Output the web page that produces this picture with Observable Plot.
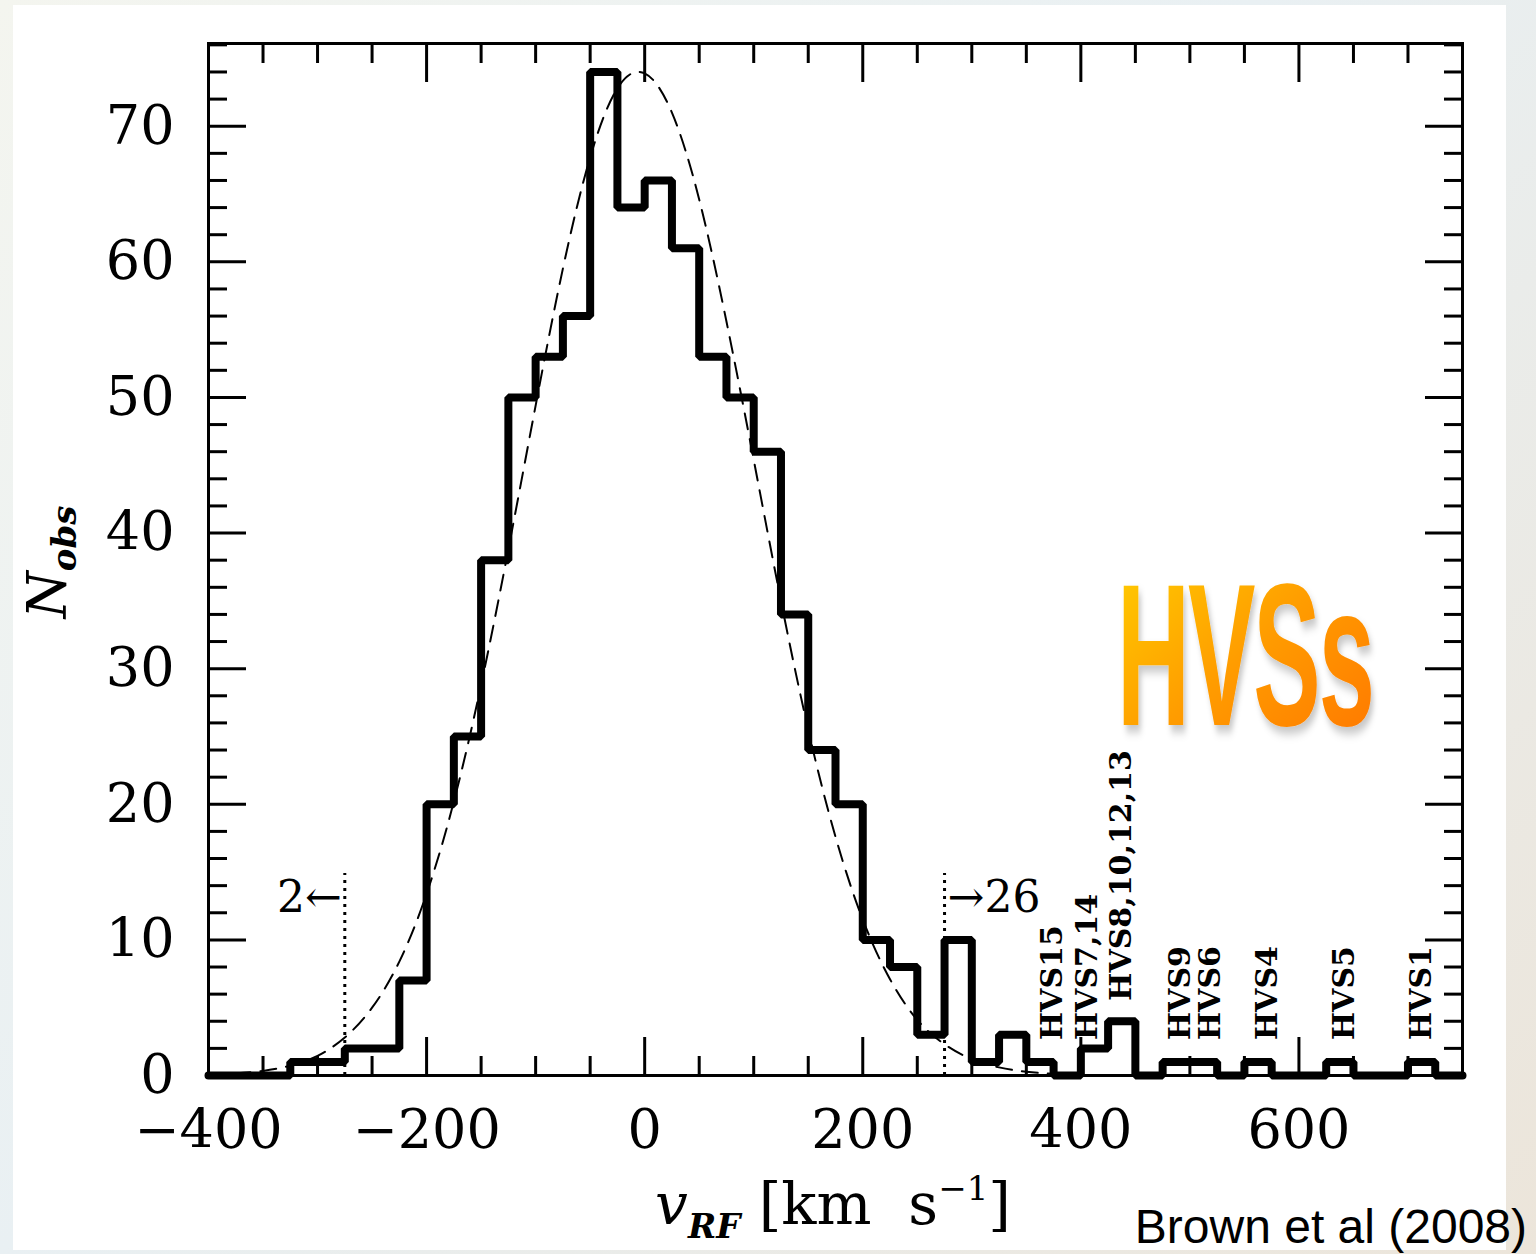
<!DOCTYPE html>
<html><head><meta charset="utf-8">
<script src="https://cdn.jsdelivr.net/npm/d3@7"></script>
<script src="https://cdn.jsdelivr.net/npm/@observablehq/plot@0.6"></script>
<style>
html,body{margin:0;padding:0;}
body{width:1536px;height:1254px;overflow:hidden;background:linear-gradient(135deg,#f4f5ef 0%,#e9f0f3 45%,#ece5da 100%);}
#wrap{position:relative;width:1536px;height:1254px;}
#panel{position:absolute;left:13px;top:5px;width:1493px;height:1245px;background:#fff;}
#chart{position:absolute;left:0;top:0;}
</style></head><body>
<div id="wrap"><div id="panel"></div><div id="chart"></div></div>
<script>
// Histogram: bin edges (km/s) and counts per 25 km/s bin
const binEdges = [-400,-375,-350,-325,-300,-275,-250,-225,-200,-175,-150,-125,-100,-75,-50,-25,0,25,50,75,100,125,150,175,200,225,250,275,300,325,350,375,400,425,450,475,500,525,550,575,600,625,650,675,700,725,750];
const counts   = [0,0,0,1,1,2,2,7,20,25,38,50,53,56,74,64,66,61,53,50,46,34,24,20,10,8,3,10,1,3,1,0,2,4,0,1,1,0,1,0,0,1,0,0,1,0];

// Dashed model curve
const fitV = [-400,-375,-350,-325,-300,-275,-250,-225,-200,-175,-150,-125,-100,-75,-50,-25,0,25,50,75,100,125,150,175,200,225,250,275,300,325,350,375,400];
const fitN = [0.06,0.15,0.34,0.72,1.45,2.8,5.0,8.4,13.4,20.2,28.8,38.8,49.4,59.5,67.7,72.8,73.9,71.0,64.6,55.6,45.4,35.0,25.5,17.6,11.5,7.1,4.1,2.3,1.2,0.6,0.28,0.12,0.05];

// Dotted cut lines and their labels
const cutV = [-275, 275];
const cutTop = [14.9, 14.9];
const cutLabel = ["2\u2190", "\u219226"];
const cutLabelY = [13.1, 13.1];

// HVS annotations (base height of each rotated label)
const hvsNames = ["HVS15","HVS7,14","HVS8,10,12,13","HVS9","HVS6","HVS4","HVS5","HVS1"];
const hvsV = [374, 406, 437.5, 491, 519, 571, 642, 712];
const hvsBase = [2.6, 2.6, 5.5, 2.6, 2.6, 2.6, 2.6, 2.6];

// Ticks
const xMajor = [-400,-200,0,200,400,600];
const xMinor = [-350,-300,-250,-150,-100,-50,50,100,150,250,300,350,450,500,550,650,700];
const yMajor = [0,10,20,30,40,50,60,70];
const yMinor = [2,4,6,8,12,14,16,18,22,24,26,28,32,34,36,38,42,44,46,48,52,54,56,58,62,64,66,68,72,74,76];

const hist = binEdges.map((e, i) => ({v: e, n: counts[Math.min(i, counts.length - 1)]}));
const fit = fitV.map((v, i) => ({v, n: fitN[i]}));
const cuts = cutV.map((v, i) => ({v, top: cutTop[i], label: cutLabel[i], ly: cutLabelY[i]}));
const hvs = hvsNames.map((name, i) => ({name, v: hvsV[i], y: hvsBase[i]}));

const serif = "DejaVu Serif";
const tickOpts = {strokeWidth: 3, tickFormat: () => "", label: null};

const plot = Plot.plot({
  width: 1536, height: 1254,
  marginLeft: 208, marginRight: 74, marginTop: 43, marginBottom: 179,
  style: {background: "transparent", fontFamily: serif, color: "#000", overflow: "visible"},
  x: {domain: [-400, 750]},
  y: {domain: [0, 76.1]},
  marks: [
    Plot.line(fit, {x: "v", y: "n", curve: "natural", stroke: "#000", strokeWidth: 2, strokeDasharray: "16,10"}),
    Plot.ruleX(cuts, {x: "v", y1: 0, y2: "top", stroke: "#000", strokeWidth: 3, strokeDasharray: "3,5"}),
    Plot.text(cuts.filter(d => d.v < 0), {x: "v", y: "ly", text: "label", textAnchor: "end", dx: -3, fontSize: 44, fontFamily: serif}),
    Plot.text(cuts.filter(d => d.v > 0), {x: "v", y: "ly", text: "label", textAnchor: "start", dx: 3, fontSize: 44, fontFamily: serif}),
    Plot.line(hist, {x: "v", y: "n", curve: "step-after", stroke: "#000", strokeWidth: 8, strokeLinejoin: "miter"}),
    Plot.text(hvs, {x: "v", y: "y", text: "name", rotate: -90, textAnchor: "start", fontSize: 30, fontWeight: 600, fontFamily: serif}),
    Plot.frame({stroke: "#000", strokeWidth: 3}),
    Plot.axisX({anchor: "bottom", ticks: xMajor, tickSize: -38, ...tickOpts}),
    Plot.axisX({anchor: "bottom", ticks: xMinor, tickSize: -19, ...tickOpts}),
    Plot.axisX({anchor: "top", ticks: xMajor, tickSize: -38, ...tickOpts}),
    Plot.axisX({anchor: "top", ticks: xMinor, tickSize: -19, ...tickOpts}),
    Plot.axisY({anchor: "left", ticks: yMajor, tickSize: -38, ...tickOpts}),
    Plot.axisY({anchor: "left", ticks: yMinor, tickSize: -19, ...tickOpts}),
    Plot.axisY({anchor: "right", ticks: yMajor, tickSize: -38, ...tickOpts}),
    Plot.axisY({anchor: "right", ticks: yMinor, tickSize: -19, ...tickOpts}),
    Plot.axisX({anchor: "bottom", ticks: xMajor, tickSize: 0, tickPadding: 34, fontSize: 54, fontFamily: serif, label: null}),
    Plot.axisY({anchor: "left", ticks: yMajor, tickSize: 0, tickPadding: 34, fontSize: 54, fontFamily: serif, label: null})
  ]
});

const svg = d3.select(plot);
const defs = svg.append("defs");
const grad = defs.append("linearGradient").attr("id", "hvsGrad")
  .attr("x1", "0%").attr("y1", "0%").attr("x2", "100%").attr("y2", "100%");
grad.append("stop").attr("offset", "0%").attr("stop-color", "#ffd000");
grad.append("stop").attr("offset", "50%").attr("stop-color", "#ff9c00");
grad.append("stop").attr("offset", "100%").attr("stop-color", "#ff7400");
const filt = defs.append("filter").attr("id", "hvsShadow").attr("x", "-10%").attr("y", "-10%").attr("width", "130%").attr("height", "130%");
filt.append("feDropShadow").attr("dx", 5).attr("dy", 7).attr("stdDeviation", 5)
  .attr("flood-color", "#000").attr("flood-opacity", 0.22);

// Y axis title: N_obs
const yl = svg.append("text")
  .attr("transform", "translate(66,562) rotate(-90)")
  .attr("text-anchor", "middle")
  .attr("font-family", serif).attr("fill", "#000");
yl.append("tspan").attr("font-size", 54).attr("font-style", "italic").text("N");
yl.append("tspan").attr("font-size", 34).attr("font-style", "italic").attr("font-weight", "bold").attr("dy", 10).text("obs");

// X axis title: v_RF [km s^-1]
const xl = svg.append("text")
  .attr("x", 833).attr("y", 1224)
  .attr("text-anchor", "middle")
  .attr("font-family", serif).attr("fill", "#000");
xl.append("tspan").attr("font-size", 58).attr("font-style", "italic").text("v");
xl.append("tspan").attr("font-size", 34).attr("font-style", "italic").attr("font-weight", "bold").attr("dy", 14).text("RF");
xl.append("tspan").attr("font-size", 58).attr("dy", -14).text("\u00a0[km\u00a0\u00a0s");
xl.append("tspan").attr("font-size", 34).attr("dy", -24).text("\u22121");
xl.append("tspan").attr("font-size", 58).attr("dy", 24).text("]");

// Big HVSs title (condensed with a horizontal scale)
const hv = svg.append("g")
  .attr("filter", "url(#hvsShadow)")
  .attr("transform", "translate(1117,725) scale(0.5,1)");
hv.append("text")
  .attr("x", 0).attr("y", 0)
  .attr("text-anchor", "start")
  .attr("font-family", "Liberation Sans, Arial, sans-serif").attr("font-weight", "bold")
  .attr("font-size", 202).attr("letter-spacing", -4)
  .attr("fill", "url(#hvsGrad)")
  .text("HVSs");

// Credit
svg.append("text")
  .attr("x", 1527).attr("y", 1243)
  .attr("text-anchor", "end")
  .attr("font-family", "Liberation Sans, Arial, sans-serif")
  .attr("font-size", 48).attr("fill", "#000")
  .text("Brown et al (2008)");

document.getElementById("chart").appendChild(plot);
</script>
</body></html>
